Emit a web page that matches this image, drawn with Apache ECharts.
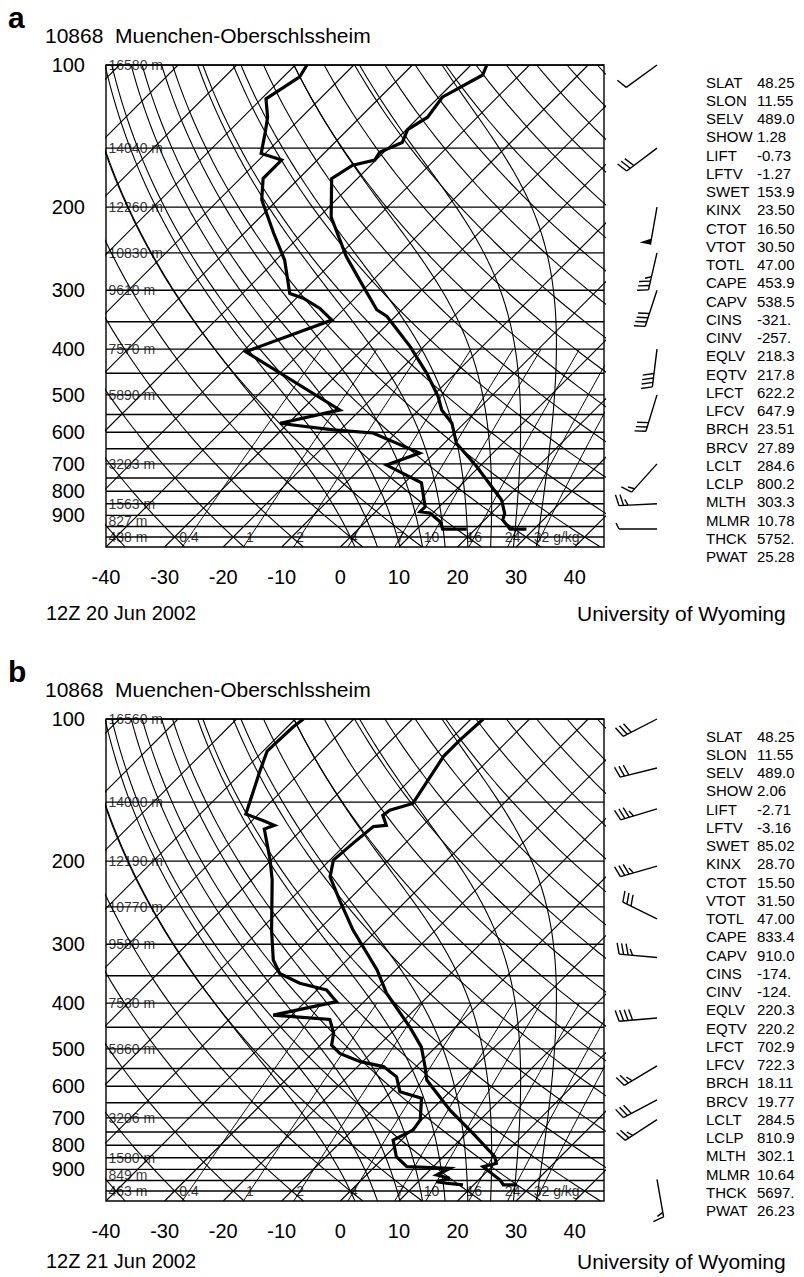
<!DOCTYPE html>
<html>
<head>
<meta charset="utf-8">
<script src="https://cdn.jsdelivr.net/npm/echarts@6.0.0/dist/echarts.min.js"></script>
<style>
  html, body { margin: 0; padding: 0; background: #fff; }
  #chart { width: 804px; height: 1277px; }
</style>
</head>
<body>
<div id="chart"></div>
<script>
const STATION = '10868  Muenchen-Oberschlssheim'
const PANEL_LABELS = ['a', 'b']
const TIMES = ['12Z 20 Jun 2002', '12Z 21 Jun 2002']
const SOURCE = 'University of Wyoming'

const X_TICKS = [-40, -30, -20, -10, 0, 10, 20, 30, 40]
const P_TICKS = [100, 200, 300, 400, 500, 600, 700, 800, 900]
const ISOBARS = [100, 150, 200, 250, 300, 350, 400, 450, 500, 550, 600, 650, 700, 750, 800, 850, 900, 950, 1000]
const ISOTHERMS = [-130, -120, -110, -100, -90, -80, -70, -60, -50, -40, -30, -20, -10, 0, 10, 20, 30, 40]
const DRY_ADIABATS = [-40, -30, -20, -10, 0, 10, 20, 30, 40, 50, 60, 70, 80, 90, 100, 110, 120, 130, 140, 150, 160, 170, 180]
const MOIST_ADIABATS = [0, 4, 8, 12, 16, 20, 24, 28, 32]
const MIX_RATIOS = [0.4, 1, 2, 4, 7, 10, 16, 24, 32]

// station heights written on the isobars
const HEIGHT_P = [100, 150, 200, 250, 300, 400, 500, 700, 850, 925, 1000]
const HEIGHTS_A = [16580, 14040, 12260, 10830, 9610, 7570, 5890, 3203, 1563, 827, 438]
const HEIGHTS_B = [16560, 14000, 12190, 10770, 9580, 7530, 5860, 3206, 1580, 849, 463]

// 20 Jun 2002 sounding (hPa, degC), surface upwards
const A_T_P = [962, 962, 920, 891, 835, 710, 633, 574, 538, 504, 450, 395, 341, 330, 286, 255, 210, 174, 163, 159, 153, 146, 137, 129, 117, 105, 100]
const A_T_T = [28.7, 25.9, 23.1, 22.3, 19.5, 9.6, 2.1, -2.1, -6.1, -9.0, -14.9, -22.3, -31.4, -34.3, -42.2, -48.5, -57.9, -64.4, -63.1, -60.2, -60.7, -58.5, -59.8, -58.5, -59.4, -56.3, -57.3]
const A_TD_P = [962, 962, 928, 890, 884, 863, 768, 704, 664, 602, 593, 579, 574, 538, 405, 347, 328, 312, 305, 259, 227, 193, 174, 159, 154, 139, 129, 118, 106, 100]
const A_TD_T = [18.5, 14.4, 12.7, 9.5, 7.6, 7.6, 2.9, -6.1, -2.5, -13.9, -21.2, -28.9, -31.4, -23.5, -49.5, -40.2, -44.2, -48.8, -51.9, -58.5, -65.0, -72.7, -76.1, -76.1, -80.7, -83.6, -85.8, -89.2, -87.2, -88.0]

// 21 Jun 2002 sounding
const B_T_P = [971, 971, 948, 888, 874, 846, 755, 674, 582, 545, 495, 449, 381, 340, 280, 242, 216, 199, 183, 169, 168, 160, 156, 151, 120, 111, 100]
const B_T_T = [27.4, 25.1, 23.7, 18.5, 20.2, 18.8, 11.1, 3.2, -5.9, -8.5, -12.5, -17.9, -27.6, -33.2, -44.1, -51.5, -57.1, -59.4, -58.9, -58.3, -56.3, -58.6, -58.3, -55.5, -58.3, -58.3, -57.9]
const B_TD_P = [971, 963, 956, 940, 925, 895, 888, 846, 780, 743, 707, 636, 616, 573, 545, 532, 511, 491, 463, 433, 426, 424, 397, 375, 363, 346, 324, 280, 219, 199, 171, 168, 164, 159, 128, 117, 104, 100]
const B_TD_T = [18.2, 15.1, 13.1, 14.8, 12.0, 13.1, 5.5, 2.0, -1.4, 0.3, -0.2, -3.7, -8.5, -11.6, -15.6, -20.4, -25.3, -28.1, -29.8, -32.8, -40.8, -43.2, -34.7, -38.4, -44.1, -49.2, -52.6, -58.0, -66.5, -70.2, -76.5, -75.4, -78.2, -82.2, -87.3, -89.3, -89.0, -88.6]

// wind barbs: level (hPa), direction (deg), speed (kt)
const A_BARB_P = [100, 150, 200, 250, 300, 400, 500, 700, 850, 962]
const A_BARB_DIR = [234, 233, 190, 193, 198, 187, 197, 222, 267, 270]
const A_BARB_SPD = [10, 30, 50, 35, 40, 40, 30, 15, 25, 5]
const B_BARB_P = [100, 127, 155, 205, 265, 320, 430, 543, 641, 706, 945]
const B_BARB_DIR = [243, 256, 253, 254, 296, 275, 265, 239, 242, 237, 170]
const B_BARB_SPD = [30, 30, 35, 35, 30, 35, 40, 25, 30, 25, 15]

const INDEX_NAMES = ['SLAT', 'SLON', 'SELV', 'SHOW', 'LIFT', 'LFTV', 'SWET', 'KINX', 'CTOT', 'VTOT', 'TOTL', 'CAPE', 'CAPV', 'CINS', 'CINV', 'EQLV', 'EQTV', 'LFCT', 'LFCV', 'BRCH', 'BRCV', 'LCLT', 'LCLP', 'MLTH', 'MLMR', 'THCK', 'PWAT']
const INDEX_A = ['48.25', '11.55', '489.0', '1.28', '-0.73', '-1.27', '153.9', '23.50', '16.50', '30.50', '47.00', '453.9', '538.5', '-321.', '-257.', '218.3', '217.8', '622.2', '647.9', '23.51', '27.89', '284.6', '800.2', '303.3', '10.78', '5752.', '25.28']
const INDEX_B = ['48.25', '11.55', '489.0', '2.06', '-2.71', '-3.16', '85.02', '28.70', '15.50', '31.50', '47.00', '833.4', '910.0', '-174.', '-124.', '220.3', '220.2', '702.9', '722.3', '18.11', '19.77', '284.5', '810.9', '302.1', '10.64', '5697.', '26.23']

const FONT = '"Liberation Sans", Arial, sans-serif'
const SKEW = 35          // degC per ln(p) unit -> 45 deg isotherms
const X_MIN = -40
const X_MAX = 45
const P_TOP = 100
const P_BOT = 1050
const PANEL_DY = 654
const FOOTER_Y = [613, 1261]
const GRID_TOP = 65
const BARB_GAP = 53
const STAFF = 38
const FEATHER = 11

const lnP = p => Math.log(p)
const skewX = (t, p) => t + SKEW * Math.log(P_BOT / p)

function profile (ps, ts) {
  return ps.map((p, i) => [skewX(ts[i], p), lnP(p)])
}

function curve (fn, pTop) {
  const pts = []
  for (let k = 0; k <= 60; k++) {
    const p = P_BOT * Math.pow(pTop / P_BOT, k / 60)
    pts.push([skewX(fn(p), p), lnP(p)])
  }
  return pts
}

function mixTd (w, p) {
  const e = w * p / (622 + w)
  const l = Math.log(e / 6.112)
  return 243.5 * l / (17.67 - l)
}

// pseudo-adiabatic lapse rate dT/dp (K/hPa)
function lapse (p, T) {
  const tc = T - 273.15
  const es = 6.112 * Math.exp(17.67 * tc / (tc + 243.5))
  const rs = 0.622 * es / (p - es)
  const num = (287.04 * T + 2.501e6 * rs) / p
  const den = 1005.7 + 2.501e6 * 2.501e6 * rs * 0.622 / (287.04 * T * T)
  return num / den
}

function moistCurve (t0) {
  const step = 2
  const up = []
  let T = t0 + 273.15
  for (let p = 1000; p >= P_TOP; p -= step) {
    up.push([skewX(T - 273.15, p), lnP(p)])
    const k1 = lapse(p, T)
    const k2 = lapse(p - step / 2, T - k1 * step / 2)
    T -= k2 * step
  }
  const down = []
  T = t0 + 273.15
  for (let p = 1000; p <= P_BOT; p += step) {
    down.push([skewX(T - 273.15, p), lnP(p)])
    const k1 = lapse(p, T)
    const k2 = lapse(p + step / 2, T + k1 * step / 2)
    T += k2 * step
  }
  return down.reverse().concat(up.slice(1))
}

function backgroundSeries (gi) {
  const out = []
  const add = (pts, width) => out.push({
    type: 'line', xAxisIndex: gi, yAxisIndex: gi, data: pts,
    symbol: 'none', silent: true, animation: false, z: 1,
    lineStyle: { color: '#000', width: width || 1.1 }
  })
  ISOBARS.forEach(p => add([[X_MIN, lnP(p)], [X_MAX, lnP(p)]], 1.4))
  ISOTHERMS.forEach(t => add([[skewX(t, P_BOT), lnP(P_BOT)], [skewX(t, P_TOP), lnP(P_TOP)]]))
  DRY_ADIABATS.forEach(th => add(curve(p => (th + 273.15) * Math.pow(p / 1000, 0.2857) - 273.15, P_TOP)))
  MOIST_ADIABATS.forEach(t0 => add(moistCurve(t0), 1.1))
  MIX_RATIOS.forEach(w => add(curve(p => mixTd(w, p), 400), 1))
  return out
}

function drawBarb (params, api) {
  const base = api.coord([api.value(0), api.value(1)])
  const bx = base[0] + BARB_GAP
  const by = base[1]
  const a = api.value(2) * Math.PI / 180
  const sx = Math.sin(a)
  const sy = -Math.cos(a)
  const fx = -sy
  const fy = sx
  const at = d => [bx + sx * d, by + sy * d]
  const stroke = { stroke: '#000', lineWidth: 1.4 }
  const children = [{ type: 'line', shape: { x1: bx, y1: by, x2: at(STAFF)[0], y2: at(STAFF)[1] }, style: stroke }]
  let spd = Math.round(api.value(3) / 5) * 5
  let d = STAFF
  while (spd >= 50) {
    const p1 = at(d)
    const p2 = at(d - 6)
    const p3 = [p1[0] + fx * FEATHER, p1[1] + fy * FEATHER]
    children.push({ type: 'polygon', shape: { points: [p1, p3, p2] }, style: { fill: '#000' } })
    spd -= 50
    d -= 8
  }
  const feather = (len) => {
    const p1 = at(d)
    children.push({
      type: 'line',
      shape: { x1: p1[0], y1: p1[1], x2: p1[0] + fx * len + sx * 3, y2: p1[1] + fy * len + sy * 3 },
      style: stroke
    })
    d -= 4.5
  }
  while (spd >= 10) { feather(FEATHER); spd -= 10 }
  if (spd >= 5) feather(FEATHER * 0.55)
  return { type: 'group', children }
}

const panels = [
  { t: [A_T_P, A_T_T], td: [A_TD_P, A_TD_T], heights: HEIGHTS_A, barb: [A_BARB_P, A_BARB_DIR, A_BARB_SPD], index: INDEX_A },
  { t: [B_T_P, B_T_T], td: [B_TD_P, B_TD_T], heights: HEIGHTS_B, barb: [B_BARB_P, B_BARB_DIR, B_BARB_SPD], index: INDEX_B }
]

const grids = []
const xAxes = []
const yAxes = []
let series = []
let graphics = []

panels.forEach((pn, gi) => {
  const dy = gi * PANEL_DY
  grids.push({ left: 106, top: GRID_TOP + dy, width: 498, height: 482, show: true, borderColor: '#000', borderWidth: 1.4, backgroundColor: 'transparent' })
  xAxes.push({
    gridIndex: gi, type: 'value', min: X_MIN, max: X_MAX, interval: 10,
    axisLine: { show: false }, axisTick: { show: false }, splitLine: { show: false },
    axisLabel: { customValues: X_TICKS, color: '#000', fontSize: 20, fontFamily: FONT, margin: 20 }
  })
  yAxes.push({
    gridIndex: gi, type: 'value', inverse: true, min: lnP(P_TOP), max: lnP(P_BOT),
    axisLine: { show: false }, axisTick: { show: false }, splitLine: { show: false },
    axisLabel: {
      customValues: P_TICKS.map(lnP), color: '#000', fontSize: 20, fontFamily: FONT, margin: 21,
      formatter: v => String(Math.round(Math.exp(v)))
    }
  })

  series = series.concat(backgroundSeries(gi))

  const prof = (data) => ({
    type: 'line', xAxisIndex: gi, yAxisIndex: gi, data, symbol: 'none', silent: true,
    animation: false, z: 3, lineStyle: { color: '#000', width: 3.2, join: 'miter' }
  })
  series.push(prof(profile(pn.t[0], pn.t[1])))
  series.push(prof(profile(pn.td[0], pn.td[1])))

  series.push({
    type: 'scatter', xAxisIndex: gi, yAxisIndex: gi, symbolSize: 1, silent: true, animation: false, z: 4, clip: false,
    itemStyle: { color: 'rgba(0,0,0,0)' },
    label: { show: true, position: 'right', distance: 2, formatter: '{b}', color: '#000', fontSize: 14, fontFamily: FONT },
    data: HEIGHT_P.map((p, i) => ({ value: [X_MIN, lnP(p)], name: pn.heights[i] + ' m' }))
  })

  series.push({
    type: 'scatter', xAxisIndex: gi, yAxisIndex: gi, symbolSize: 1, silent: true, animation: false, z: 4, clip: false,
    itemStyle: { color: 'rgba(0,0,0,0)' },
    label: { show: true, position: 'inside', formatter: '{b}', color: '#000', fontSize: 14, fontFamily: FONT },
    data: MIX_RATIOS.map((w, i) => {
      const last = i === MIX_RATIOS.length - 1
      return {
        value: [skewX(mixTd(w, 1000), 1000), lnP(1000)],
        name: last ? w + ' g/kg' : String(w),
        label: last ? { align: 'left', offset: [-7, 0] } : undefined
      }
    })
  })

  series.push({
    type: 'custom', xAxisIndex: gi, yAxisIndex: gi, silent: true, animation: false, clip: false, z: 5,
    encode: { x: 0, y: 1 },
    data: pn.barb[0].map((p, i) => [X_MAX, lnP(p), pn.barb[1][i], pn.barb[2][i]]),
    renderItem: drawBarb
  })

  const txt = (x, y, text, font) => ({
    type: 'text', x, y, silent: true,
    style: { text, font, fill: '#000', verticalAlign: 'middle' }
  })
  graphics.push(txt(8, 17 + dy, PANEL_LABELS[gi], 'bold 30px ' + FONT))
  graphics.push(txt(45, 35 + dy, STATION, '21px ' + FONT))
  graphics.push(txt(46, FOOTER_Y[gi], TIMES[gi], '20px ' + FONT))
  graphics.push(txt(577, FOOTER_Y[gi], SOURCE, '21px ' + FONT))
  INDEX_NAMES.forEach((name, i) => {
    graphics.push(txt(706, 82 + i * 18.25 + dy, name, '15px ' + FONT))
    graphics.push(txt(757, 82 + i * 18.25 + dy, pn.index[i], '15px ' + FONT))
  })
})

const chart = echarts.init(document.getElementById('chart'), null, { renderer: 'svg' })
chart.setOption({
  backgroundColor: '#fff',
  animation: false,
  grid: grids,
  xAxis: xAxes,
  yAxis: yAxes,
  series,
  graphic: graphics
})
</script>
</body>
</html>
